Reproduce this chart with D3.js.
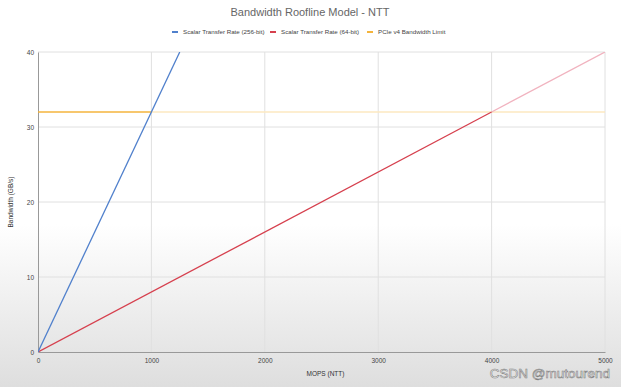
<!DOCTYPE html>
<html>
<head>
  <script src="https://d3js.org/d3.v7.min.js"></script>
  <style>
    body { margin: 0; }
    text { font-family: "Liberation Sans", Arial, sans-serif; }
  </style>
</head>
<body>
  <div id="chart"></div>
  <script>
    var xTicks = [0, 1000, 2000, 3000, 4000, 5000];
    var yTicks = [0, 10, 20, 30, 40];
    var seriesNames = ["Scalar Transfer Rate (256-bit)", "Scalar Transfer Rate (64-bit)", "PCIe v4 Bandwidth Limit"];
    var seriesColors = ["#5080cc", "#d6404e", "#f4b43c"];
    var fadedColors = ["#5080cc", "#f1b3bf", "#fce8c0"];
    // [mops, GB/s] endpoints per series
    var blueLine = [[0, 0], [1250, 40]];
    var redLine = [[0, 0], [5000, 40]];
    var orangeLine = [[0, 32], [5000, 32]];
    // x beyond which each line is drawn pale
    var fadeFrom = [5000, 4000, 1000];

    var W = 621, H = 387;
    var margin = {top: 52, right: 16, bottom: 35, left: 38};
    var width = W - margin.left - margin.right,
        height = H - margin.top - margin.bottom;

    var svg = d3.select("#chart").append("svg")
      .attr("width", W).attr("height", H);

    var grad = svg.append("defs").append("linearGradient")
      .attr("id", "bg").attr("x1", 0).attr("y1", 0).attr("x2", 0).attr("y2", 1);
    grad.append("stop").attr("offset", "0%").attr("stop-color", "#ffffff");
    grad.append("stop").attr("offset", "58%").attr("stop-color", "#ffffff");
    grad.append("stop").attr("offset", "100%").attr("stop-color", "#dedede");
    svg.append("clipPath").attr("id", "clip").append("rect")
      .attr("width", width).attr("height", height);

    svg.append("rect").attr("width", W).attr("height", H).attr("fill", "url(#bg)");

    var g = svg.append("g")
      .attr("transform", "translate(" + margin.left + "," + margin.top + ")");

    var x = d3.scaleLinear().domain([0, 5000]).range([0, width]);
    var y = d3.scaleLinear().domain([0, 40]).range([height, 0]);

    // grid
    g.append("g").selectAll("line").data(yTicks.slice(1)).enter().append("line")
      .attr("x1", 0).attr("x2", width)
      .attr("y1", function(d) { return y(d); }).attr("y2", function(d) { return y(d); })
      .attr("stroke", "#e0e0e0");
    g.append("g").selectAll("line").data(xTicks.slice(1)).enter().append("line")
      .attr("y1", 0).attr("y2", height)
      .attr("x1", function(d) { return x(d); }).attr("x2", function(d) { return x(d); })
      .attr("stroke", "#e0e0e0");

    // axes
    var xAxis = g.append("g").attr("transform", "translate(0," + height + ")")
      .call(d3.axisBottom(x).tickValues(xTicks).tickSize(0).tickPadding(6).tickFormat(d3.format("d")));
    xAxis.select(".domain").attr("stroke", "#999");
    xAxis.selectAll("text").attr("font-size", 6.5).attr("fill", "#444");

    var yAxis = g.append("g")
      .call(d3.axisLeft(y).tickValues(yTicks).tickSize(0).tickPadding(4));
    yAxis.select(".domain").attr("stroke", "#999");
    yAxis.selectAll("text").attr("font-size", 6.5).attr("fill", "#444").attr("dy", "0.32em");

    // lines
    var lines = [blueLine, redLine, orangeLine];
    var plot = g.append("g").attr("clip-path", "url(#clip)");
    var lineGen = d3.line().x(function(d) { return x(d[0]); }).y(function(d) { return y(d[1]); });
    function at(pts, xv) {
      var a = pts[0], b = pts[1];
      return a[1] + (b[1] - a[1]) * (xv - a[0]) / (b[0] - a[0]);
    }
    [2, 1, 0].forEach(function(i) {
      var pts = lines[i], f = Math.min(fadeFrom[i], pts[1][0]);
      var mid = [f, at(pts, f)];
      if (f < pts[1][0]) {
        plot.append("path").attr("d", lineGen([mid, pts[1]]))
          .attr("fill", "none").attr("stroke", fadedColors[i]).attr("stroke-width", 1.3);
      }
      plot.append("path").attr("d", lineGen([pts[0], mid]))
        .attr("fill", "none").attr("stroke", seriesColors[i]).attr("stroke-width", 1.3);
    });

    // title
    svg.append("text").attr("x", 310).attr("y", 16).attr("text-anchor", "middle")
      .attr("font-size", 11).attr("fill", "#666").text("Bandwidth Roofline Model - NTT");

    // legend
    var legX = [172, 270, 367];
    var leg = svg.append("g").selectAll("g").data(seriesNames).enter().append("g")
      .attr("transform", function(d, i) { return "translate(" + legX[i] + ",32)"; });
    leg.append("rect").attr("x", 0).attr("y", -1).attr("width", 6).attr("height", 2)
      .attr("fill", function(d, i) { return seriesColors[i]; });
    leg.append("text").attr("x", 11).attr("y", 2.2).attr("font-size", 6.2).attr("fill", "#444")
      .text(function(d) { return d; });

    // axis titles
    svg.append("text").attr("x", margin.left + width / 2 + 4).attr("y", 376)
      .attr("text-anchor", "middle").attr("font-size", 6.5).attr("fill", "#333").text("MOPS (NTT)");
    svg.append("text").attr("transform", "translate(13," + (margin.top + height / 2) + ") rotate(-90)")
      .attr("text-anchor", "middle").attr("font-size", 6.5).attr("fill", "#333").text("Bandwidth (GB/s)");

    // watermark
    svg.append("text").attr("x", 610).attr("y", 378).attr("text-anchor", "end")
      .attr("font-size", 13.5).attr("fill", "#ffffff").attr("stroke", "#808080").attr("stroke-width", 0.6)
      .text("CSDN @mutourend");
  </script>
</body>
</html>
